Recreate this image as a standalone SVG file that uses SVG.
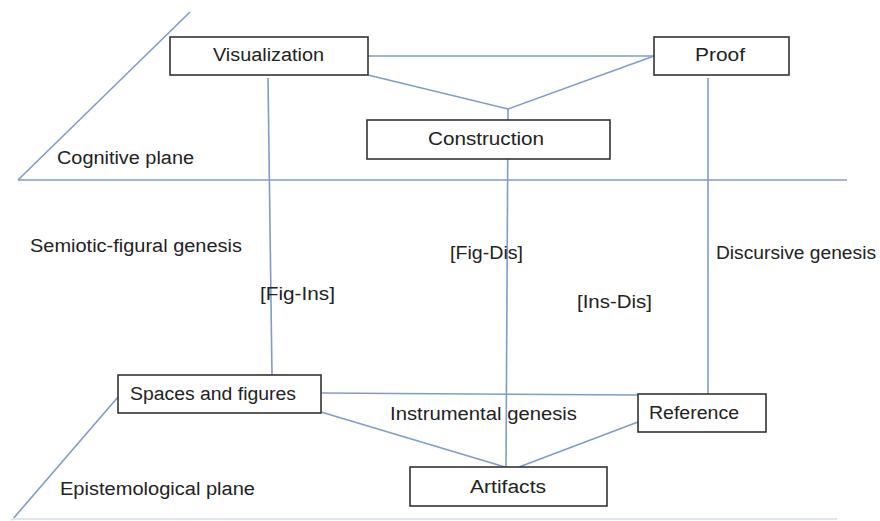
<svg xmlns="http://www.w3.org/2000/svg" width="880" height="521" viewBox="0 0 880 521">
<style>
.bg{fill:#ffffff}
.ln{stroke:#7f9cc9;stroke-width:1.6;fill:none}
.lnl{stroke:#dde7f4;stroke-width:2;fill:none}
.box{fill:#ffffff;stroke:#333333;stroke-width:1.6}
text{font-family:"Liberation Sans",Arial,sans-serif;font-size:18px;fill:#222222}
</style>
<rect class="bg" x="0" y="0" width="880" height="521"/>
<g id="connectors">
<line class="ln" x1="190" y1="12" x2="18" y2="180"/>
<line class="ln" x1="18" y1="180" x2="847" y2="180"/>
<line class="ln" x1="118" y1="397" x2="12" y2="520"/>
<line class="lnl" x1="12" y1="519" x2="837" y2="519"/>
<line class="ln" x1="368" y1="56" x2="654" y2="56"/>
<polyline class="ln" points="368,75 508,109 654,56"/>
<line class="ln" x1="508" y1="109" x2="506" y2="467"/>
<line class="ln" x1="268" y1="78" x2="272" y2="375"/>
<line class="ln" x1="708" y1="78" x2="708" y2="394"/>
<line class="ln" x1="321" y1="393" x2="638" y2="395"/>
<line class="ln" x1="321" y1="412" x2="505" y2="467"/>
<line class="ln" x1="638" y1="422" x2="519" y2="467"/>
</g>
<g id="visualization">
<rect class="box" x="170" y="37" width="198" height="38"/>
<text x="213" y="61" textLength="111" lengthAdjust="spacingAndGlyphs">Visualization</text>
</g>
<g id="proof">
<rect class="box" x="654" y="37" width="135" height="38"/>
<text x="695" y="61" textLength="50" lengthAdjust="spacingAndGlyphs">Proof</text>
</g>
<g id="construction">
<rect class="box" x="367" y="120" width="243" height="39"/>
<text x="428" y="145" textLength="116" lengthAdjust="spacingAndGlyphs">Construction</text>
</g>
<g id="spaces">
<rect class="box" x="118" y="375" width="203" height="38"/>
<text x="130" y="400" textLength="166" lengthAdjust="spacingAndGlyphs">Spaces and figures</text>
</g>
<g id="reference">
<rect class="box" x="638" y="394" width="128" height="38"/>
<text x="649" y="419" textLength="90" lengthAdjust="spacingAndGlyphs">Reference</text>
</g>
<g id="artifacts">
<rect class="box" x="410" y="467" width="197" height="39"/>
<text x="470" y="493" textLength="76" lengthAdjust="spacingAndGlyphs">Artifacts</text>
</g>
<g id="labels">
<text x="57" y="164" textLength="137" lengthAdjust="spacingAndGlyphs">Cognitive plane</text>
<text x="30" y="252" textLength="212" lengthAdjust="spacingAndGlyphs">Semiotic-figural genesis</text>
<text x="260" y="300" textLength="75" lengthAdjust="spacingAndGlyphs">[Fig-Ins]</text>
<text x="450" y="259" textLength="73" lengthAdjust="spacingAndGlyphs">[Fig-Dis]</text>
<text x="577" y="308" textLength="75" lengthAdjust="spacingAndGlyphs">[Ins-Dis]</text>
<text x="716" y="259" textLength="160" lengthAdjust="spacingAndGlyphs">Discursive genesis</text>
<text x="390" y="420" textLength="187" lengthAdjust="spacingAndGlyphs">Instrumental genesis</text>
<text x="60" y="495" textLength="195" lengthAdjust="spacingAndGlyphs">Epistemological plane</text>
</g>
</svg>
